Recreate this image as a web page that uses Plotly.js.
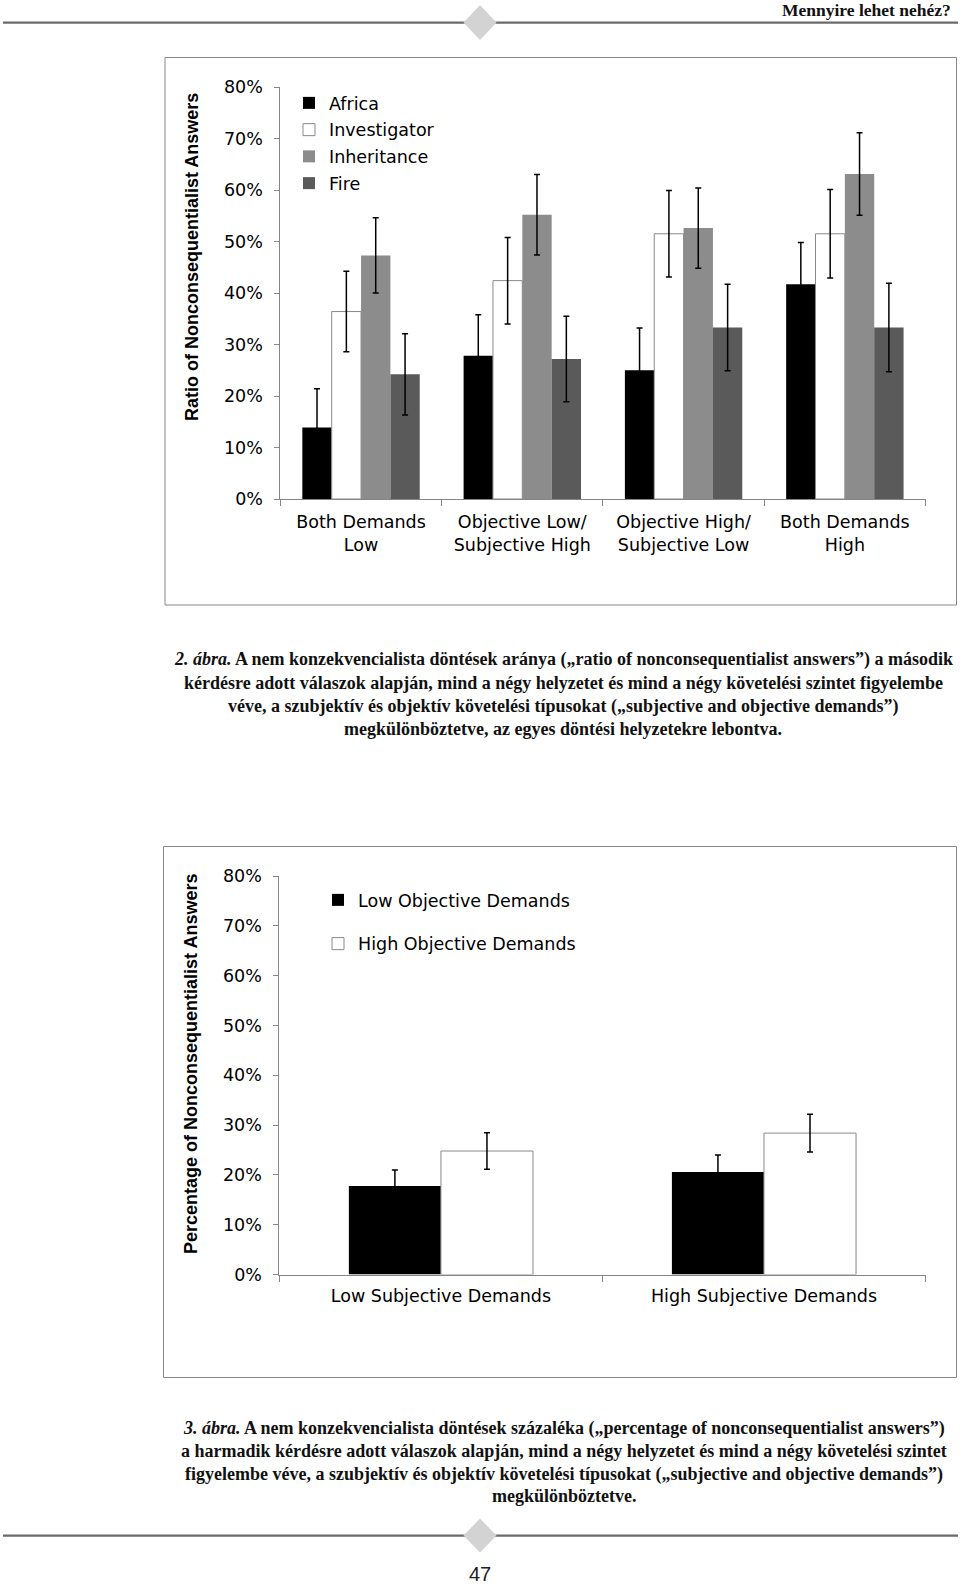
<!DOCTYPE html>
<html>
<head>
<meta charset="utf-8">
<script src="https://cdn.plot.ly/plotly-3.0.1.min.js"></script>
<style>html,body{margin:0;padding:0;background:#fff;}#chart{width:960px;height:1586px;}</style>
</head>
<body>
<div id="chart"></div>
<script>
// ---------- Data: figure 2 ----------
const categories1 = ["Both Demands<br>Low", "Objective Low/<br>Subjective High", "Objective High/<br>Subjective Low", "Both Demands<br>High"];
const seriesNames1 = ["Africa", "Investigator", "Inheritance", "Fire"];
const africa = [13.9, 27.8, 25.0, 41.7];
const africaErr = [7.5, 8.0, 8.2, 8.1];
const investigator = [36.4, 42.4, 51.5, 51.5];
const investigatorErr = [7.8, 8.4, 8.4, 8.6];
const inheritance = [47.3, 55.2, 52.6, 63.1];
const inheritanceErr = [7.3, 7.8, 7.8, 8.0];
const fire = [24.2, 27.2, 33.3, 33.3];
const fireErr = [7.9, 8.3, 8.4, 8.6];

// ---------- Data: figure 3 ----------
const categories2 = ["Low Subjective Demands", "High Subjective Demands"];
const seriesNames2 = ["Low Objective Demands", "High Objective Demands"];
const lowObjective = [17.8, 20.6];
const lowObjectiveErr = [3.2, 3.4];
const highObjective = [24.8, 28.4];
const highObjectiveErr = [3.65, 3.8];

// ---------- Tick labels / texts ----------
const yTitle1 = "Ratio of Nonconsequentialist Answers";
const yTitle2 = "Percentage of Nonconsequentialist Answers";
const headerText = "Mennyire lehet nehéz?";
const caption1 = [
  "<i>2. ábra.</i> A nem konzekvencialista döntések aránya („ratio of nonconsequentialist answers”) a második",
  "kérdésre adott válaszok alapján, mind a négy helyzetet és mind a négy követelési szintet figyelembe",
  "véve, a szubjektív és objektív követelési típusokat („subjective and objective demands”)",
  "megkülönböztetve, az egyes döntési helyzetekre lebontva."
];
const caption2 = [
  "<i>3. ábra.</i> A nem konzekvencialista döntések százaléka („percentage of nonconsequentialist answers”)",
  "a harmadik kérdésre adott válaszok alapján, mind a négy helyzetet és mind a négy követelési szintet",
  "figyelembe véve, a szubjektív és objektív követelési típusokat („subjective and objective demands”)",
  "megkülönböztetve."
];
const pageNumber = "47";

// ---------- Helpers ----------
const W = 960, H = 1586;
const px = x => x / W;
const py = y => 1 - y / H;

const chartFont = {family: "DejaVu Sans", size: 17.5, color: "#000"};
const axisGray = "#868686";
const capFont = {family: "Liberation Serif", size: 18, color: "#111"};
const yTitleFont = {family: "Liberation Sans", size: 18, color: "#000"};

function barTrace(name, xs, ys, errs, color, lineColor, lineWidth, xa, ya, legendName, width, offset) {
  return {
    type: "bar", name: name, x: xs, y: ys,
    xaxis: xa, yaxis: ya, legend: legendName, legendgroup: name,
    width: width, offset: offset,
    marker: {color: color, line: {color: lineColor, width: lineWidth}},
    error_y: {type: "data", array: errs, visible: true, color: "#000", thickness: 1.5, width: 3},
    hoverinfo: "skip"
  };
}

const w1 = 0.182, w2 = 0.285;
const traces = [
  barTrace(seriesNames1[0], categories1, africa, africaErr, "#000000", "#000000", 0, "x", "y", "legend", w1, -2 * w1),
  barTrace(seriesNames1[1], categories1, investigator, investigatorErr, "#ffffff", "#8a8a8a", 1, "x", "y", "legend", w1, -w1),
  barTrace(seriesNames1[2], categories1, inheritance, inheritanceErr, "#8c8c8c", "#8c8c8c", 0, "x", "y", "legend", w1, 0),
  barTrace(seriesNames1[3], categories1, fire, fireErr, "#5a5a5a", "#5a5a5a", 0, "x", "y", "legend", w1, w1),
  barTrace(seriesNames2[0], categories2, lowObjective, lowObjectiveErr, "#000000", "#000000", 0, "x2", "y2", "legend2", w2, -w2),
  barTrace(seriesNames2[1], categories2, highObjective, highObjectiveErr, "#ffffff", "#8a8a8a", 1, "x2", "y2", "legend2", w2, 0)
];

function xAxis(domain, anchor, n, standoff) {
  return {
    domain: domain, anchor: anchor, type: "category", range: [-0.5, n - 0.5],
    showline: true, linecolor: axisGray, linewidth: 1,
    ticks: "outside", tickson: "boundaries", ticklen: 6, tickcolor: axisGray, tickwidth: 1,
    ticklabelstandoff: standoff,
    showgrid: false, zeroline: false, tickfont: chartFont, fixedrange: true
  };
}
function yAxis(domain, anchor) {
  return {
    domain: domain, anchor: anchor, range: [0, 80], dtick: 10, ticksuffix: "%",
    showline: true, linecolor: axisGray, linewidth: 1,
    ticks: "outside", ticklen: 5, tickcolor: axisGray, tickwidth: 1,
    ticklabelstandoff: 8,
    showgrid: false, zeroline: false, tickfont: chartFont, fixedrange: true
  };
}

const shapes = [
  // frames around the two figures
  {type: "rect", xref: "paper", yref: "paper", x0: px(165), x1: px(956.5), y0: py(57.5), y1: py(605), line: {color: "#888", width: 1}},
  {type: "rect", xref: "paper", yref: "paper", x0: px(163.5), x1: px(956.5), y0: py(846.5), y1: py(1377.5), line: {color: "#888", width: 1}},
  // page rules
  {type: "line", xref: "paper", yref: "paper", x0: px(3), x1: px(958), y0: py(22.7), y1: py(22.7), line: {color: "#6b6b6b", width: 2.2}},
  {type: "line", xref: "paper", yref: "paper", x0: px(3), x1: px(958), y0: py(1535.6), y1: py(1535.6), line: {color: "#6b6b6b", width: 2.2}},
];
function diamond(cx, cy, hw, hh) {
  return {type: "path", xref: "paper", yref: "paper",
    path: `M ${px(cx - hw)} ${py(cy)} L ${px(cx)} ${py(cy - hh)} L ${px(cx + hw)} ${py(cy)} L ${px(cx)} ${py(cy + hh)} Z`,
    fillcolor: "#d3d3d3", line: {width: 0}};
}
shapes.push(diamond(480, 22.5, 16.5, 17.5));
shapes.push(diamond(480, 1535.5, 16.5, 17));

const annotations = [
  {text: "<b>" + headerText + "</b>", xref: "paper", yref: "paper", x: px(953), y: py(10), xanchor: "right", yanchor: "middle",
   showarrow: false, font: {family: "Liberation Serif", size: 17.5, color: "#111"}},
  {text: pageNumber, xref: "paper", yref: "paper", x: px(480), y: py(1574), xanchor: "center", yanchor: "middle",
   showarrow: false, font: {family: "Liberation Sans Narrow, Liberation Sans", size: 20, color: "#222"}},
  // y-axis titles
  {text: "<b>" + yTitle1 + "</b>", xref: "paper", yref: "paper", x: px(192), y: py(257), textangle: -90,
   xanchor: "center", yanchor: "middle", showarrow: false, font: yTitleFont},
  {text: "<b>" + yTitle2 + "</b>", xref: "paper", yref: "paper", x: px(191), y: py(1064), textangle: -90,
   xanchor: "center", yanchor: "middle", showarrow: false, font: yTitleFont}
];
const cap1Y = [659.6, 682.8, 706.1, 729.4];
caption1.forEach((t, i) => annotations.push({text: "<b>" + t + "</b>", xref: "paper", yref: "paper", x: px(563), y: py(cap1Y[i]),
  xanchor: "center", yanchor: "middle", showarrow: false, font: capFont}));
const cap2Y = [1428.4, 1450.6, 1474, 1496.2];
caption2.forEach((t, i) => annotations.push({text: "<b>" + t + "</b>", xref: "paper", yref: "paper", x: px(564), y: py(cap2Y[i]),
  xanchor: "center", yanchor: "middle", showarrow: false, font: capFont}));

const layout = {
  width: W, height: H, margin: {l: 0, r: 0, t: 0, b: 0, pad: 0},
  paper_bgcolor: "#fff", plot_bgcolor: "rgba(0,0,0,0)",
  barmode: "group", bargap: 0.27, bargroupgap: 0,
  showlegend: true,
  xaxis: xAxis([px(280.4), px(925.5)], "y", categories1.length, 7),
  yaxis: yAxis([py(499), py(87)], "x"),
  xaxis2: xAxis([px(279.4), px(925.5)], "y2", categories2.length, 5),
  yaxis2: yAxis([py(1274.6), py(876)], "x2"),
  legend: {x: px(289), y: py(85), xanchor: "left", yanchor: "top", bgcolor: "rgba(0,0,0,0)",
    font: chartFont, tracegroupgap: 1, traceorder: "grouped", itemclick: false, itemdoubleclick: false},
  legend2: {x: px(318), y: py(882), xanchor: "left", yanchor: "top", bgcolor: "rgba(0,0,0,0)",
    font: chartFont, tracegroupgap: 18, traceorder: "grouped", itemclick: false, itemdoubleclick: false},
  shapes: shapes,
  annotations: annotations
};

Plotly.newPlot("chart", traces, layout, {displayModeBar: false, staticPlot: true});
</script>
</body>
</html>
